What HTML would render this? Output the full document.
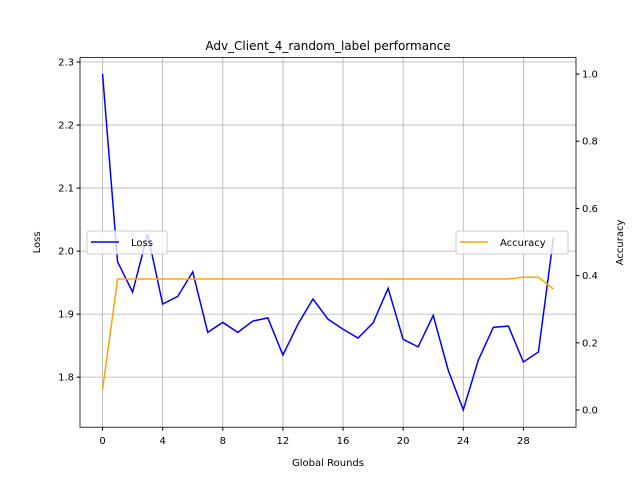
<!DOCTYPE html>
<html><head><meta charset="utf-8"><style>
body{margin:0;background:#fff;font-family:"Liberation Sans","DejaVu Sans",sans-serif;}
svg text{font-family:"DejaVu Sans","Liberation Sans",sans-serif;}
</style></head><body>
<svg id="chart" width="640" height="480" xmlns="http://www.w3.org/2000/svg"></svg>
<script>
const rounds = [0,1,2,3,4,5,6,7,8,9,10,11,12,13,14,15,16,17,18,19,20,21,22,23,24,25,26,27,28,29,30];
const lossValues = [2.281,1.983,1.935,2.027,1.916,1.928,1.967,1.871,1.887,1.871,1.889,1.894,1.835,1.884,1.924,1.892,1.876,1.862,1.886,1.941,1.860,1.848,1.898,1.811,1.748,1.827,1.879,1.881,1.824,1.840,2.021];
const accValues = [0.06,0.39,0.39,0.39,0.39,0.39,0.39,0.39,0.39,0.39,0.39,0.39,0.39,0.39,0.39,0.39,0.39,0.39,0.39,0.39,0.39,0.39,0.39,0.39,0.39,0.39,0.39,0.39,0.395,0.395,0.36];
const xTicks = [0,4,8,12,16,20,24,28];
const lossTicks = [1.8,1.9,2.0,2.1,2.2,2.3];
const accTicks = [0.0,0.2,0.4,0.6,0.8,1.0];

const L=80,R=576,T=57.6,B=427.2;
const xMin=-1.5, xMax=31.5, lMin=1.7206, lMax=2.307, aMin=-0.0512, aMax=1.049;
const x = v => L + (v - xMin) / (xMax - xMin) * (R - L);
const yL = v => B - (v - lMin) / (lMax - lMin) * (B - T);
const yR = v => B - (v - aMin) / (aMax - aMin) * (B - T);
const svg = document.getElementById('chart');
const NS = 'http://www.w3.org/2000/svg';
function mk(tag, attrs, parent){const e=document.createElementNS(NS,tag);for(const k in attrs)e.setAttribute(k,attrs[k]);(parent||svg).appendChild(e);return e;}

const grid = mk('g',{});


xTicks.forEach(t=>{mk('line',{x1:x(t),x2:x(t),y1:T,y2:B,stroke:'#b0b0b0','stroke-width':0.8},grid);});
lossTicks.forEach(t=>{mk('line',{x1:L,x2:R,y1:yL(t),y2:yL(t),stroke:'#b0b0b0','stroke-width':0.8},grid);});

const xa = mk('g',{});


xTicks.forEach(t=>{mk('line',{x1:x(t),x2:x(t),y1:B,y2:B+3.5,stroke:'#000'},xa);const tx=mk('text',{x:x(t),y:B+17,'font-size':10,'text-anchor':'middle'},xa);tx.textContent=t;});
const ya = mk('g',{});


lossTicks.forEach(t=>{mk('line',{x1:L-3.5,x2:L,y1:yL(t),y2:yL(t),stroke:'#000'},ya);const tx=mk('text',{x:L-6,y:yL(t)+3.5,'font-size':10,'text-anchor':'end'},ya);tx.textContent=t.toFixed(1);});
const yr = mk('g',{});


accTicks.forEach(t=>{mk('line',{x1:R,x2:R+3.5,y1:yR(t),y2:yR(t),stroke:'#000'},yr);const tx=mk('text',{x:R+6,y:yR(t)+3.5,'font-size':10},yr);tx.textContent=t.toFixed(1);});

const lossLine = mk('polyline',{points:rounds.map((r,i)=>x(r)+','+yL(lossValues[i])).join(' '),fill:'none',stroke:'#0000ff','stroke-width':1.5});


const accLine = mk('polyline',{points:rounds.map((r,i)=>x(r)+','+yR(accValues[i])).join(' '),fill:'none',stroke:'#ffa500','stroke-width':1.5});



const frame = mk('rect',{x:L,y:T,width:R-L,height:B-T,fill:'none',stroke:'#000','stroke-width':0.8});



const title = mk('text',{x:(L+R)/2,y:50,'font-size':12,'text-anchor':'middle'});
title.textContent='Adv_Client_4_random_label performance';


const xt = mk('text',{x:(L+R)/2,y:466,'font-size':10,'text-anchor':'middle'});
xt.textContent='Global Rounds';


const ylt = mk('text',{x:40,y:(T+B)/2,'font-size':10,'text-anchor':'middle',transform:'rotate(-90 40 '+((T+B)/2)+')'});
ylt.textContent='Loss';


const yrt = mk('text',{x:623,y:(T+B)/2,'font-size':10,'text-anchor':'middle',transform:'rotate(-90 623 '+((T+B)/2)+')'});
yrt.textContent='Accuracy';



const lg1 = mk('g',{});


mk('rect',{x:87,y:231,width:80,height:23,rx:2,fill:'#fff','fill-opacity':0.8,stroke:'#ccc'},lg1);
mk('line',{x1:91,x2:119,y1:242,y2:242,stroke:'#0000ff','stroke-width':1.5},lg1);
const t1=mk('text',{x:131,y:246,'font-size':10},lg1);t1.textContent='Loss';
const lg2 = mk('g',{});


mk('rect',{x:456,y:231,width:112,height:23,rx:2,fill:'#fff','fill-opacity':0.8,stroke:'#ccc'},lg2);
mk('line',{x1:460,x2:488,y1:242,y2:242,stroke:'#ffa500','stroke-width':1.5},lg2);
const t2=mk('text',{x:500,y:246,'font-size':10},lg2);t2.textContent='Accuracy';
</script>
</body></html>
